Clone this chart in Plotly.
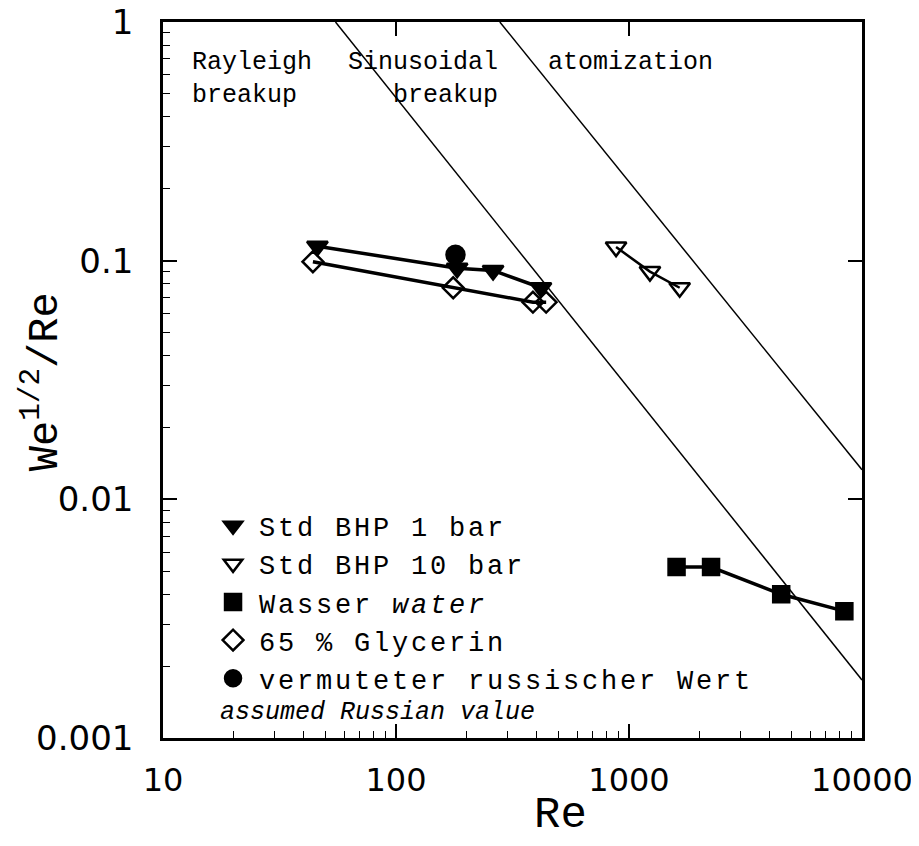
import plotly.graph_objects as go

# ---- data ----
bhp1_re = [46, 183, 261, 419]
bhp1_val = [0.115, 0.093, 0.091, 0.077]

bhp10_re = [880, 1230, 1650]
bhp10_val = [0.114, 0.090, 0.077]

water_re = [1600, 2250, 4500, 8400]
water_val = [0.0052, 0.0052, 0.0040, 0.0034]

glyc_re = [44, 176, 387, 441]
glyc_val = [0.099, 0.077, 0.067, 0.067]

russ_re = [180]
russ_val = [0.106]

# regime boundary lines (end points)
bound1_re = [55, 10000]
bound1_val = [1.0, 0.00175]
bound2_re = [279, 10000]
bound2_val = [1.0, 0.0133]

x_ticks = [10, 100, 1000, 10000]
x_ticktext = ["10", "100", "1000", "10000"]
y_ticks = [0.001, 0.01, 0.1, 1]
y_ticktext = ["0.001", "0.01", "0.1", "1"]

MONO = "Liberation Mono"
SANS = "DejaVu Sans"

def spaced(s, px=2.8):
    return f'<span style="letter-spacing:{px}px">{s}</span>'

fig = go.Figure()

# boundary lines
for bx, by in [(bound1_re, bound1_val), (bound2_re, bound2_val)]:
    fig.add_trace(go.Scatter(x=bx, y=by, mode="lines",
                             line=dict(color="black", width=1.5),
                             showlegend=False, hoverinfo="skip"))

# connecting lines for data
for sx, sy, w in [(bhp1_re, bhp1_val, 3.5), (glyc_re, glyc_val, 3.5),
                  (bhp10_re, bhp10_val, 2.5), (water_re, water_val, 3.5)]:
    fig.add_trace(go.Scatter(x=sx, y=sy, mode="lines",
                             line=dict(color="black", width=w),
                             showlegend=False, hoverinfo="skip"))

def mk(name, x, y, symbol, size, group):
    fig.add_trace(go.Scatter(
        x=x, y=y, mode="markers", name=name, legendgroup=group,
        marker=dict(symbol=symbol, size=size, color="black",
                    line=dict(color="black", width=2.5))))

mk(spaced("Std BHP 1 bar"), bhp1_re, bhp1_val, "triangle-down", 18, "a")
mk(spaced("Std BHP 10 bar"), bhp10_re, bhp10_val, "triangle-down-open", 18, "b")
mk(spaced("Wasser <i>water</i>"), water_re, water_val, "square", 16, "c")
mk(spaced("65 % Glycerin"), glyc_re, glyc_val, "diamond-open", 16, "d")
mk(spaced("vermuteter russischer Wert"), russ_re, russ_val, "circle", 18, "e")

# invisible trace for the mirror axes
fig.add_trace(go.Scatter(x=[10], y=[0.1], xaxis="x2", yaxis="y2",
                         mode="markers", marker=dict(opacity=0, size=1),
                         showlegend=False, hoverinfo="skip"))

common_axis = dict(type="log", showgrid=False, zeroline=False,
                   showline=True, linecolor="black", linewidth=2.5,
                   ticks="inside", tickcolor="black", tickwidth=2,
                   ticklen=14, automargin=False, ticklabeloverflow="allow")

# page has an 8px body margin: figure is 911x838 with offsets accounted for
fig.update_layout(
    width=911, height=838,
    margin=dict(l=155, r=57, t=14, b=108),
    paper_bgcolor="white", plot_bgcolor="white",
    xaxis=dict(**common_axis, range=[1, 4], tickvals=x_ticks,
               ticktext=x_ticktext, mirror=True,
               minor=dict(ticks="inside", ticklen=7, tickwidth=1.2,
                          tickcolor="black", dtick="D1"),
               tickfont=dict(family=SANS, size=32, color="black"),
               ticklabelstandoff=12),
    yaxis=dict(**common_axis, range=[-3, 0], tickvals=y_ticks,
               ticktext=y_ticktext, mirror=True,
               minor=dict(ticks="inside", ticklen=7, tickwidth=1.2,
                          tickcolor="black", dtick="D1"),
               tickfont=dict(family=SANS, size=34, color="black"),
               ticklabelstandoff=20),
    xaxis2=dict(type="log", range=[1, 4], overlaying="x", side="top",
                showgrid=False, zeroline=False, showticklabels=False,
                tickvals=x_ticks, ticks="inside", ticklen=14,
                tickwidth=2, tickcolor="black", automargin=False),
    yaxis2=dict(type="log", range=[-3, 0], overlaying="y", side="right",
                showgrid=False, zeroline=False, showticklabels=False,
                tickvals=y_ticks, ticks="inside", ticklen=14,
                tickwidth=2, tickcolor="black", automargin=False),
    legend=dict(x=0.063, y=0.33, xanchor="left", yanchor="top",
                bgcolor="rgba(0,0,0,0)", tracegroupgap=0,
                font=dict(family=MONO, size=27, color="black"),
                itemwidth=42),
    showlegend=True,
)

# axis titles
fig.add_annotation(text="Re", xref="paper", yref="paper",
                   x=0.568, y=-0.108, xanchor="center", yanchor="middle",
                   showarrow=False,
                   font=dict(family=MONO, size=44, color="black"))
fig.add_annotation(text="We<sup>1/2</sup>/Re", xref="paper", yref="paper",
                   x=-0.173, y=0.497, xanchor="center", yanchor="middle",
                   textangle=-90, showarrow=False,
                   font=dict(family=MONO, size=42, color="black"))

annot_font = dict(family=MONO, size=25, color="black")
fig.add_annotation(text="Rayleigh<br>breakup", xref="paper", yref="paper",
                   x=0.038, y=0.966, xanchor="left", yanchor="top",
                   showarrow=False, align="left", font=annot_font)
fig.add_annotation(text="Sinusoidal<br>   breakup", xref="paper", yref="paper",
                   x=0.262, y=0.966, xanchor="left", yanchor="top",
                   showarrow=False, align="left", font=annot_font)
fig.add_annotation(text="atomization", xref="paper", yref="paper",
                   x=0.548, y=0.966, xanchor="left", yanchor="top",
                   showarrow=False, align="left", font=annot_font)
fig.add_annotation(text="<i>assumed Russian value</i>", xref="paper",
                   yref="paper", x=0.079, y=0.035, xanchor="left",
                   yanchor="middle", showarrow=False,
                   font=dict(family=MONO, size=25, color="black"))

fig.write_html("out.html")
